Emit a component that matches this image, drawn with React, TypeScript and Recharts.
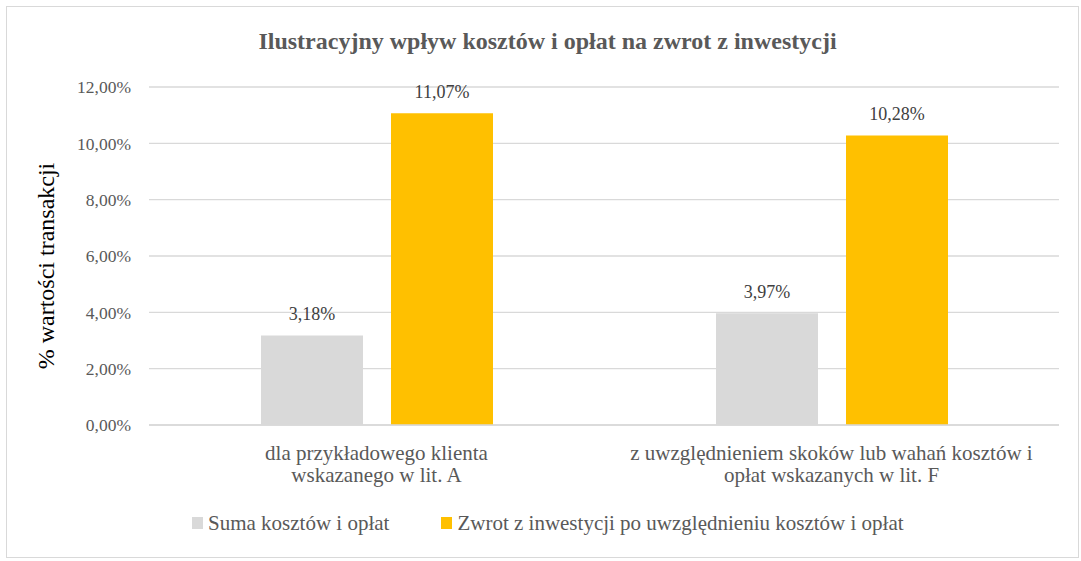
import { BarChart, Bar, XAxis, YAxis, CartesianGrid, Legend, LabelList } from "recharts";

const categories = [
  "dla przykładowego klienta wskazanego w lit. A",
  "z uwzględnieniem skoków lub wahań kosztów i opłat wskazanych w lit. F",
];
const categoryLines = [
  ["dla przykładowego klienta", "wskazanego w lit. A"],
  ["z uwzględnieniem skoków lub wahań kosztów i", "opłat wskazanych w lit. F"],
];
const sumaKosztow = [3.18, 3.97];
const zwrotPoKosztach = [11.07, 10.28];
const yTicks = [0, 2, 4, 6, 8, 10, 12];

const seriesNames = ["Suma kosztów i opłat", "Zwrot z inwestycji po uwzględnieniu kosztów i opłat"];
const seriesColors = ["#D9D9D9", "#FFC000"];

const data = categories.map((name, i) => ({
  name,
  suma: sumaKosztow[i],
  zwrot: zwrotPoKosztach[i],
}));

const FONT = "Liberation Serif";
const fmt = (v: number) => `${v.toFixed(2).replace(".", ",")}%`;

function CategoryTick(props: any) {
  const { x, y, index } = props;
  const lines = categoryLines[index] ?? [];
  return (
    <text x={x} y={y} textAnchor="middle" fill="#595959" fontSize={21} fontFamily={FONT}>
      {lines.map((l, i) => (
        <tspan key={i} x={x} dy={i === 0 ? 35 : 22}>
          {l}
        </tspan>
      ))}
    </text>
  );
}

function LegendContent() {
  return (
    <div style={{ display: "flex", fontFamily: FONT, fontSize: 21, color: "#595959", lineHeight: "24px" }}>
      {seriesNames.map((n, i) => (
        <div key={n} style={{ display: "flex", alignItems: "center", marginLeft: i === 0 ? 0 : 52 }}>
          <span style={{ width: 11, height: 12, background: seriesColors[i], marginRight: 5, display: "inline-block" }} />
          <span>{n}</span>
        </div>
      ))}
    </div>
  );
}

export default function App() {
  return (
    <div
      style={{
        position: "absolute",
        left: 0,
        top: 0,
        width: 1081,
        height: 561,
        background: "#fff",
        fontFamily: FONT,
      }}
    >
      <div
        style={{
          position: "absolute",
          left: 6,
          top: 6,
          width: 1071,
          height: 550,
          border: "1px solid #D9D9D9",
        }}
      />
      <div
        style={{
          position: "absolute",
          left: 7,
          width: 1081,
          top: 28,
          textAlign: "center",
          fontWeight: "bold",
          fontSize: 24,
          color: "#595959",
          whiteSpace: "nowrap",
        }}
      >
        Ilustracyjny wpływ kosztów i opłat na zwrot z inwestycji
      </div>
      <div
        style={{
          position: "absolute",
          left: 46,
          top: 266,
          transform: "translate(-50%, -50%) rotate(-90deg)",
          whiteSpace: "nowrap",
          fontSize: 24,
          color: "#000",
        }}
      >
        % wartości transakcji
      </div>
      <div style={{ position: "absolute", left: 0, top: 0 }}>
        <BarChart
          width={1081}
          height={561}
          data={data}
          margin={{ top: 87, right: 22, left: 0, bottom: 76 }}
          barSize={102}
          barGap={28}
        >
          <CartesianGrid vertical={false} stroke="#D9D9D9" strokeWidth={1.3} />
          <XAxis
            dataKey="name"
            axisLine={{ stroke: "#D9D9D9", strokeWidth: 1.3 }}
            tickLine={false}
            tickSize={0}
            tickMargin={0}
            height={60}
            interval={0}
            tick={<CategoryTick />}
          />
          <YAxis
            width={149}
            domain={[0, 12]}
            ticks={yTicks}
            axisLine={false}
            tickLine={false}
            tickSize={0}
            tickMargin={18}
            tickFormatter={fmt}
            tick={{ fill: "#595959", fontSize: 17.5, fontFamily: FONT }}
          />
          <Legend
            verticalAlign="middle"
            align="center"
            wrapperStyle={{ top: 511, left: 192, width: 860 }}
            content={<LegendContent />}
          />
          <Bar dataKey="suma" name={seriesNames[0]} fill={seriesColors[0]} isAnimationActive={false}>
            <LabelList
              dataKey="suma"
              position="top"
              offset={15}
              formatter={(v: any) => fmt(Number(v))}
              fill="#404040"
              fontSize={18}
              fontFamily={FONT}
            />
          </Bar>
          <Bar dataKey="zwrot" name={seriesNames[1]} fill={seriesColors[1]} isAnimationActive={false}>
            <LabelList
              dataKey="zwrot"
              position="top"
              offset={15}
              formatter={(v: any) => fmt(Number(v))}
              fill="#404040"
              fontSize={18}
              fontFamily={FONT}
            />
          </Bar>
        </BarChart>
      </div>
    </div>
  );
}
